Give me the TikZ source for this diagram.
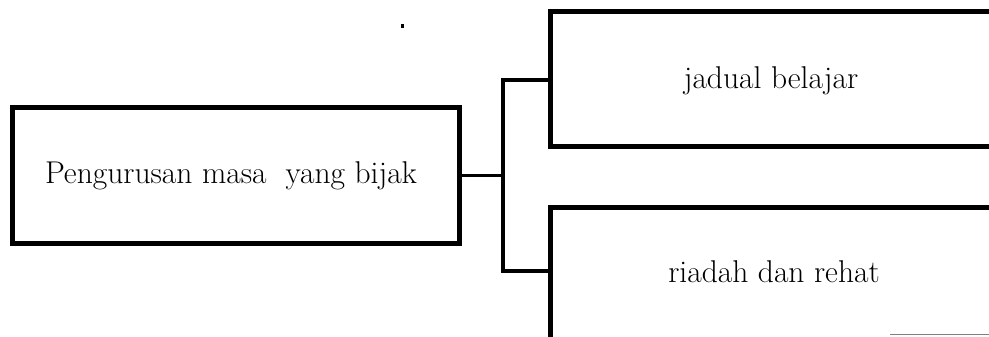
\documentclass[tikz,border=0pt]{standalone}
\usepackage{fontspec}
\begin{document}
\begin{tikzpicture}[x=1pt,y=-1pt,
  box/.style={draw=black,line width=5pt,rectangle,inner sep=0pt,fill=white},
  conn/.style={draw=black,line width=3.2pt},
  lbl/.style={font=\fontsize{31.5}{36}\selectfont}]
\useasboundingbox (0,0) rectangle (989,337);
\clip (0,0) rectangle (989,337);
% main box
\node[box,minimum width=447pt,minimum height=135pt] (lb) at (235.5,175.5) {};
\node[lbl] (lt) at (231,176) {Pengurusan masa\ \ yang bijak};
% right boxes (cut at the page edge)
\node[box,minimum width=450pt,minimum height=134pt] (ub) at (775,79) {};
\node[lbl] (ut) at (771,81) {jadual belajar};
\node[box,minimum width=450pt,minimum height=140pt] (db) at (775,277) {};
\node[lbl] (dt) at (774,272) {riadah dan rehat};
% connectors
\coordinate (bus) at (503,175.5);
\coordinate (ua) at (ub.west |- 0,80);
\coordinate (la) at (db.west |- 0,271);
\draw[conn] (lb.east) -- (bus);
\draw[conn] (ua) -| (bus) |- (la);
% small mark and faint scan line
\fill (400.5,24.5) rectangle (403.5,28.5);
\draw[line width=1pt,gray] (890,334.5) -- (989,334.5);
\end{tikzpicture}
\end{document}
